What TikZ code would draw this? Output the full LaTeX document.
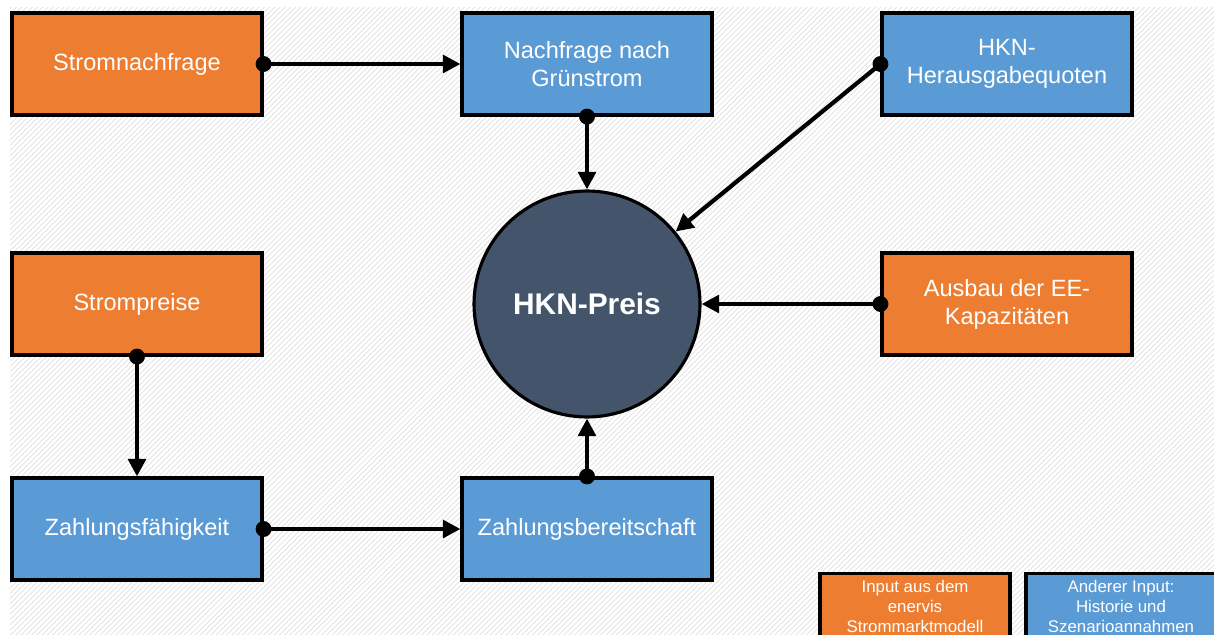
\documentclass[tikz,border=0pt]{standalone}
\usepackage{fontspec}
\setmainfont{Liberation Sans}
\usetikzlibrary{positioning, arrows.meta, patterns}
\definecolor{inorange}{HTML}{ED7D31}
\definecolor{inblue}{HTML}{5B9BD5}
\definecolor{preisgrey}{HTML}{44546A}

\begin{document}
\begin{tikzpicture}[x=0.02cm,y=-0.02cm]
		\tikzstyle{box} = [draw=black, line width=1.8pt, minimum width=5cm, minimum height=2.04cm, inner sep=2pt, text=white, align=center, font=\fontsize{13.4}{16}\selectfont]
		\tikzstyle{modelbox} = [box, fill=inorange]
		\tikzstyle{otherbox} = [box, fill=inblue]
		\tikzstyle{legend} = [draw=black, line width=1.8pt, minimum width=3.8cm, minimum height=1.6cm, inner xsep=1pt, inner ysep=4pt, text=white, align=center, anchor=north, text depth=0.9cm, font=\fontsize{9.6}{11.3}\selectfont]
		\tikzstyle{link} = [line width=2.4pt, {Circle[length=9pt]}-{Triangle[length=10pt,width=10pt]}, shorten <=-4.5pt]
		\useasboundingbox (0,0) rectangle (1214,635);
		% background
		\fill [white] (10,8) rectangle (1214,635);
		\fill [pattern=north east lines, pattern color=black!12] (10,8) rectangle (1214,635);
		% boxes
		\node [modelbox] (nachfrage) at (137,64) {Stromnachfrage};
		\node [otherbox] (gruen) at (587,64) {Nachfrage nach\\Grünstrom};
		\node [otherbox] (quoten) at (1007,64) {HKN-\\Herausgabequoten};
		\node [modelbox] (preise) at (137,304) {Strompreise};
		\node [modelbox] (ausbau) at (1007,304) {Ausbau der EE-\\Kapazitäten};
		\node [otherbox] (faehig) at (137,529) {Zahlungsfähigkeit};
		\node [otherbox] (bereit) at (587,529) {Zahlungsbereitschaft};
		\node [circle, draw=black, line width=1.8pt, fill=preisgrey, minimum size=4.52cm, inner sep=0, text=white, font=\fontsize{17}{20}\selectfont\bfseries] (preis) at (587,304) {HKN-Preis};
		% links
		\draw [link] (nachfrage.east) -- (gruen.west);
		\draw [link] (gruen.south) -- (preis.north);
		\draw [link] (quoten.west) -- (preis);
		\draw [link] (ausbau.west) -- (preis.east);
		\draw [link] (preise.south) -- (faehig.north);
		\draw [link] (faehig.east) -- (bereit.west);
		\draw [link] (bereit.north) -- (preis.south);
		% legend
		\node [legend, fill=inorange] (legmodel) at (915,572) {Input aus dem\\enervis\\Strommarktmodell};
		\node [legend, fill=inblue] (legother) at (1121,572) {Anderer Input:\\Historie und\\Szenarioannahmen};
\end{tikzpicture}
\end{document}
